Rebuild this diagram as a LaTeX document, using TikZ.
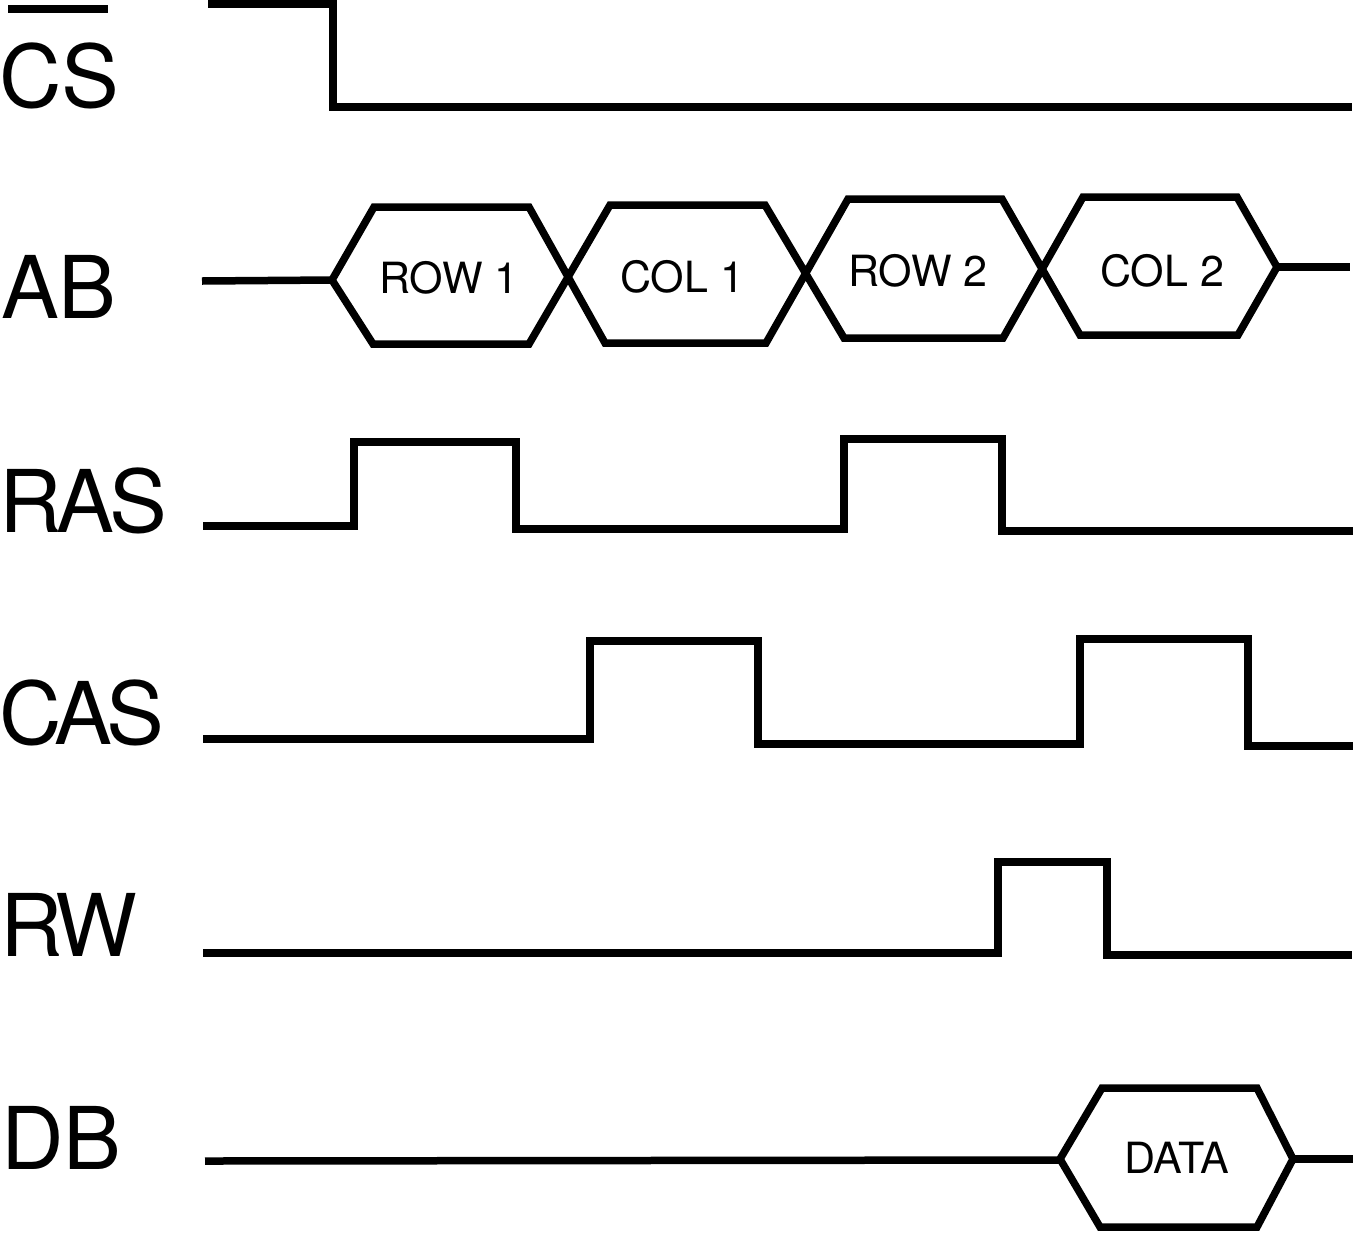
\documentclass[tikz,border=0pt]{standalone}
\usepackage{fontspec}
\setmainfont{TeX Gyre Heros}
\tikzset{
  wave/.style={line width=7.5pt, line join=miter, line cap=butt, black},
  siglabel/.style={anchor=base west, inner sep=0pt, font=\fontsize{86.6}{90}\selectfont},
  tightlabel/.style={siglabel, font=\fontsize{86.6}{90}\selectfont\addfontfeature{LetterSpace=-6}},
  buslabel/.style={anchor=base, inner sep=0pt, font=\fontsize{43}{46}\selectfont},
}
\begin{document}
\begin{tikzpicture}[x=1pt,y=-1pt]
\useasboundingbox[fill=white] (0,0) rectangle (1356,1232);
% signal names
\node[siglabel] (lcs)  at (-1,107)  {CS};
\draw[line width=8pt] (8,9) -- (108,9);
\node[siglabel] (lab)  at (1,318)   {AB};
\node[tightlabel] (lras) at (-1,532)  {RAS};
\node[tightlabel] (lcas) at (-1,744)  {CAS};
\node[tightlabel] (lrw)  at (0,956)   {RW};
\node[siglabel] (ldb)  at (1,1169) {DB};
% CS
\draw[wave] (208,3.75) -- (333,3.75) -- (333,107) -- (1352,107);
% AB bus
\draw[wave] (202,281) -- (332,280);
\draw[wave] (332,280) -- (373,344) -- (529,344) -- (610,205) -- (765,205)
  -- (844,338) -- (1003,338) -- (1083,197) -- (1237,197) -- (1277,267)
  -- (1238,335) -- (1080,335) -- (1002,199) -- (848,199) -- (766,343)
  -- (605,343) -- (529,207) -- (374,207) -- cycle;
\draw[wave] (1277,267) -- (1350,267);
\node[buslabel] (row1) at (449,293) {ROW 1};
\node[buslabel] (col1) at (682,292) {COL 1};
\node[buslabel] (row2) at (918,286) {ROW 2};
\node[buslabel] (col2) at (1162,286) {COL 2};
% RAS
\draw[wave] (203,526) -- (354,526) -- (354,442) -- (516,442) -- (516,529)
  -- (844,529) -- (844,439) -- (1002,439) -- (1002,531) -- (1353,531);
% CAS
\draw[wave] (203,739) -- (590,739) -- (590,641) -- (758,641) -- (758,744)
  -- (1080,744) -- (1080,639) -- (1248,639) -- (1248,746) -- (1353,746);
% RW
\draw[wave] (203,953) -- (998,953) -- (998,862) -- (1107,862) -- (1107,955) -- (1352,955);
% DB
\draw[wave] (205,1161) -- (1060,1160);
\draw[wave] (1060,1159) -- (1102,1088) -- (1257,1088) -- (1293,1159)
  -- (1257,1227) -- (1100,1227) -- cycle;
\draw[wave] (1293,1159) -- (1353,1159);
\node[buslabel] (data) at (1177,1173) {DATA};
\end{tikzpicture}
\end{document}
